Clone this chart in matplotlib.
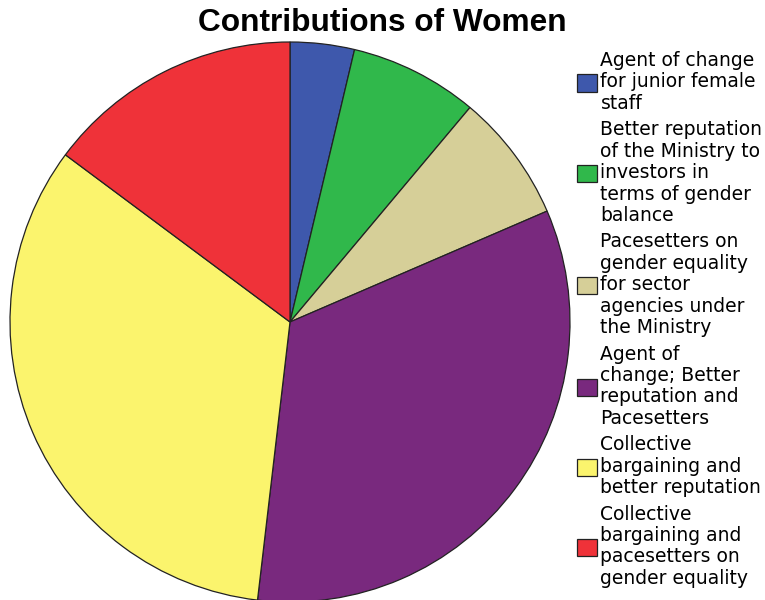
import matplotlib.pyplot as plt

# Counts per response category
categories = [
    "Agent of change\nfor junior female\nstaff",
    "Better reputation\nof the Ministry to\ninvestors in\nterms of gender\nbalance",
    "Pacesetters on\ngender equality\nfor sector\nagencies under\nthe Ministry",
    "Agent of\nchange; Better\nreputation and\nPacesetters",
    "Collective\nbargaining and\nbetter reputation",
    "Collective\nbargaining and\npacesetters on\ngender equality",
]
counts = [1, 2, 2, 9, 9, 4]
colors = ["#3e58ac", "#30b84b", "#d6cf98", "#79297e", "#fbf46d", "#ef3239"]

fig = plt.figure(figsize=(7.65, 6), dpi=100)

# pie area: 560x560 px square centred at (290, 322)
ax = fig.add_axes([10 / 765, (278 - 280) / 600, 560 / 765, 560 / 600])
wedges, _ = ax.pie(counts, colors=colors, startangle=90, counterclock=False,
                   radius=1.0,
                   wedgeprops=dict(edgecolor="#222222", linewidth=0.9))
ax.set_xlim(-1, 1)
ax.set_ylim(-1, 1)
ax.set_aspect("auto")
ax.axis("off")

fig.text(382 / 765, 1 - 23 / 600, "Contributions of Women",
         ha="center", va="center", fontsize=22.8, fontweight="bold",
         family="Liberation Sans")

leg = fig.legend(wedges, categories, loc="upper left",
                 bbox_to_anchor=(577 / 765, 1 - 51 / 600),
                 frameon=False, borderpad=0, borderaxespad=0,
                 handlelength=1.05, handleheight=1.05, handletextpad=0.2,
                 labelspacing=0.40,
                 prop=dict(family="DejaVu Sans", size=13.5))
for t in leg.get_texts():
    t.set_linespacing(1.16)

fig.savefig("out.png", dpi=100)
